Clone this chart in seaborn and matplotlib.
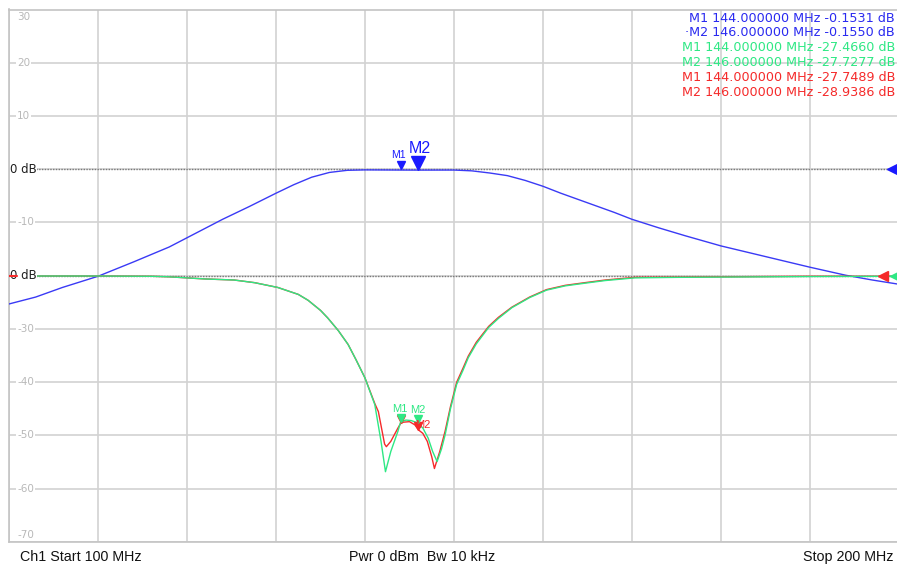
import numpy as np
import pandas as pd
import seaborn as sns
import matplotlib.pyplot as plt

# --- trace data (MHz, dB) ---
freq_blue = [100, 103, 106, 110, 114, 118, 121, 124, 127, 130, 132, 134, 136, 138, 140,
             144, 146, 150, 152, 154, 156, 158, 160, 162, 165, 168, 170, 173, 176, 180,
             184, 187, 190, 194, 197, 200]
db_blue = [-25.3, -24.0, -22.2, -20.1, -17.4, -14.6, -12.0, -9.4, -7.0, -4.5, -2.9, -1.5,
           -0.6, -0.2, -0.12, -0.15, -0.16, -0.15, -0.3, -0.7, -1.2, -2.1, -3.2, -4.5,
           -6.3, -8.1, -9.4, -11.0, -12.5, -14.4, -16.0, -17.2, -18.4, -19.9, -20.8, -21.6]

freq_green = [100, 110, 116, 118, 120, 122, 125.3, 127.6, 130.2, 132.5, 133.6, 135, 135.8,
              137, 138.1, 139, 140, 141.1, 141.8, 142.3, 142.9, 143.7, 144, 144.6, 145.2,
              145.7, 146, 146.5, 147.1, 147.6, 148.1, 148.6, 149, 149.6, 150.3, 151, 151.6,
              152.5, 153.9, 155, 156.5, 158.5, 160.4, 162.5, 164.7, 167, 170.3, 175, 180,
              190, 200]
db_green = [-0.05, -0.05, -0.1, -0.2, -0.4, -0.6, -0.8, -1.3, -2.2, -3.5, -4.6, -6.5, -7.9,
            -10.3, -12.9, -15.8, -19.2, -24.2, -31.1, -36.8, -33.0, -29.2, -27.47, -27.1,
            -27.2, -27.5, -27.73, -28.6, -30.5, -33.0, -34.9, -32.5, -29.9, -25.0, -20.4,
            -17.8, -15.4, -12.8, -9.7, -8.0, -6.0, -4.1, -2.7, -1.9, -1.4, -0.9, -0.4,
            -0.3, -0.25, -0.15, -0.1]

freq_red = [100, 110, 116, 118, 120, 122, 125.3, 127.6, 130.2, 132.5, 133.6, 135, 135.8,
            137, 138.1, 139, 140, 141.1, 141.5, 142.2, 142.4, 142.9, 143.7, 144, 144.3,
            145.0, 145.6, 146, 146.5, 147.0, 147.5, 147.8, 148.4, 149, 149.6, 150.3, 151,
            151.6, 152.5, 153.9, 155, 156.5, 158.5, 160.4, 162.5, 164.7, 167, 170.3, 175,
            180, 190, 200]
db_red = [-0.05, -0.05, -0.1, -0.2, -0.4, -0.6, -0.8, -1.3, -2.2, -3.5, -4.6, -6.5, -7.9,
          -10.3, -12.9, -15.8, -19.2, -24.0, -25.5, -31.6, -32.1, -31.1, -28.6, -27.75,
          -27.5, -27.4, -28.0, -28.94, -29.6, -31.1, -34.0, -36.2, -33.0, -29.2, -24.6,
          -20.0, -17.4, -15.1, -12.5, -9.5, -7.8, -5.9, -4.0, -2.6, -1.8, -1.3, -0.8, -0.3,
          -0.25, -0.2, -0.1, -0.1]

# marker readouts
marker_freq = [144.0, 146.0]
marker_blue = [-0.1531, -0.1550]
marker_green = [-27.4660, -27.7277]
marker_red = [-27.7489, -28.9386]

# reference position (grid dB) of each trace's 0 dB line
ref_blue = 0
ref_rg = -20

BLUE = '#3a3af5'
GREEN = '#2ee884'
RED = '#f52a2a'

df = pd.concat([
    pd.DataFrame({'MHz': freq_blue, 'grid': np.array(db_blue) + ref_blue, 'trace': 'S21'}),
    pd.DataFrame({'MHz': freq_red, 'grid': np.array(db_red) + ref_rg, 'trace': 'S11'}),
    pd.DataFrame({'MHz': freq_green, 'grid': np.array(db_green) + ref_rg, 'trace': 'S22'}),
])

sns.set_style('white')
plt.rcParams['font.family'] = ['DejaVu Sans']

fig = plt.figure(figsize=(8.97, 5.64), dpi=100)
ax = fig.add_axes([9 / 897, 1 - 542 / 564, 890 / 897, 532.5 / 564])

sns.lineplot(data=df, x='MHz', y='grid', hue='trace', sort=False,
             palette={'S21': BLUE, 'S11': RED, 'S22': GREEN},
             linewidth=1.0, legend=False, ax=ax, zorder=3)

ax.set_xlim(100, 200)
ax.set_ylim(-70, 30)
ax.set_xticks(np.arange(100, 201, 10))
ax.set_yticks(np.arange(-70, 31, 10))
ax.grid(True, color='#d2d2d2', linewidth=1.2)
ax.tick_params(length=0, labelbottom=False, labelleft=False)
ax.set_xlabel('')
ax.set_ylabel('')
for s in ax.spines.values():
    s.set_color('#c4c4c4')
    s.set_linewidth(1.2)

# reference lines
for r in [ref_blue, ref_rg]:
    ax.plot([101.5, 199.0], [r, r], color='#7a7a7a', linestyle=(0, (1, 1)),
            linewidth=1.0, zorder=2)

# grid value labels
for v in range(-70, 31, 10):
    if v in (ref_blue, ref_rg):
        continue
    va, dy = 'center', 0
    if v == 30:
        va, dy = 'top', -2
    if v == -70:
        va, dy = 'bottom', 2
    ax.annotate(str(v), xy=(0, v), xycoords=('axes fraction', 'data'),
                xytext=(8, dy), textcoords='offset pixels', fontsize=7.5,
                color='#b8b8b8', va=va, ha='left', zorder=4,
                bbox=dict(facecolor='white', edgecolor='none', pad=0.5))

# reference labels
for r in [ref_blue, ref_rg]:
    ax.annotate('0 dB', xy=(0, r), xycoords=('axes fraction', 'data'),
                xytext=(1, 0), textcoords='offset pixels', fontsize=8.5,
                color='#1e1e1e', va='center', ha='left', zorder=5,
                bbox=dict(facecolor='white', edgecolor='none', pad=0.3))
ax.plot([100.05, 100.9], [ref_rg, ref_rg], color=RED, linewidth=1.5, zorder=6)

# reference arrows on the right
ax.plot([199.3], [ref_blue], marker='<', markersize=9, color='#1a1aff',
        clip_on=False, zorder=6)
ax.plot([198.2], [ref_rg], marker='<', markersize=7, color=RED, clip_on=False, zorder=6)
ax.plot([199.6], [ref_rg], marker='<', markersize=7, color=GREEN, clip_on=False, zorder=6)

# blue markers
ax.plot([marker_freq[0]], [marker_blue[0] + ref_blue + 0.9], marker='v', markersize=6,
        color='#1a1aff', zorder=6)
ax.plot([marker_freq[1]], [marker_blue[1] + ref_blue + 1.3], marker='v', markersize=10,
        color='#1a1aff', zorder=6)
ax.annotate('M1', xy=(marker_freq[0], ref_blue), xytext=(-2, 14), textcoords='offset pixels',
            fontsize=7.5, color='#1a1aff', ha='center', va='center', zorder=6,
            family='Liberation Sans')
ax.annotate('M2', xy=(marker_freq[1], ref_blue), xytext=(1, 21), textcoords='offset pixels',
            fontsize=11.5, color='#1a1aff', ha='center', va='center', zorder=6,
            family='Liberation Sans')

# red / green markers
for vals, col in [(marker_red, RED), (marker_green, GREEN)]:
    for f, v in zip(marker_freq, vals):
        ax.plot([f], [v + ref_rg + 0.8], marker='v', markersize=6, color=col, zorder=7)
ax.annotate('M2', xy=(marker_freq[1], marker_red[1] + ref_rg), xytext=(4, 5),
            textcoords='offset pixels', fontsize=8, color=RED, ha='center', va='center',
            zorder=7, family='Liberation Sans')
for i, f in enumerate(marker_freq):
    ax.annotate('M%d' % (i + 1), xy=(f, marker_green[i] + ref_rg), xytext=(-1, 13),
                textcoords='offset pixels', fontsize=8, color=GREEN, ha='center',
                va='center', zorder=8, family='Liberation Sans')

# marker readout table
rows = [
    ('M1 144.000000 MHz -0.1531 dB', '#2a2af0'),
    ('\u00b7M2 146.000000 MHz -0.1550 dB', '#2a2af0'),
    ('M1 144.000000 MHz -27.4660 dB', GREEN),
    ('M2 146.000000 MHz -27.7277 dB', GREEN),
    ('M1 144.000000 MHz -27.7489 dB', RED),
    ('M2 146.000000 MHz -28.9386 dB', RED),
]
for i, (txt, col) in enumerate(rows):
    fig.text(895 / 897, 1 - (18 + 14.8 * i) / 564, txt, color=col, fontsize=9.2,
             ha='right', va='center')

# footer
fig.text(20 / 897, 1 - 557 / 564, 'Ch1 Start 100 MHz', fontsize=10.3, color='#111111',
         ha='left', va='center', family='Liberation Sans')
fig.text(422 / 897, 1 - 557 / 564, 'Pwr 0 dBm  Bw 10 kHz', fontsize=10.3, color='#111111',
         ha='center', va='center', family='Liberation Sans')
fig.text(893 / 897, 1 - 557 / 564, 'Stop 200 MHz', fontsize=10.3, color='#111111',
         ha='right', va='center', family='Liberation Sans')

fig.savefig('out.png', dpi=100)
